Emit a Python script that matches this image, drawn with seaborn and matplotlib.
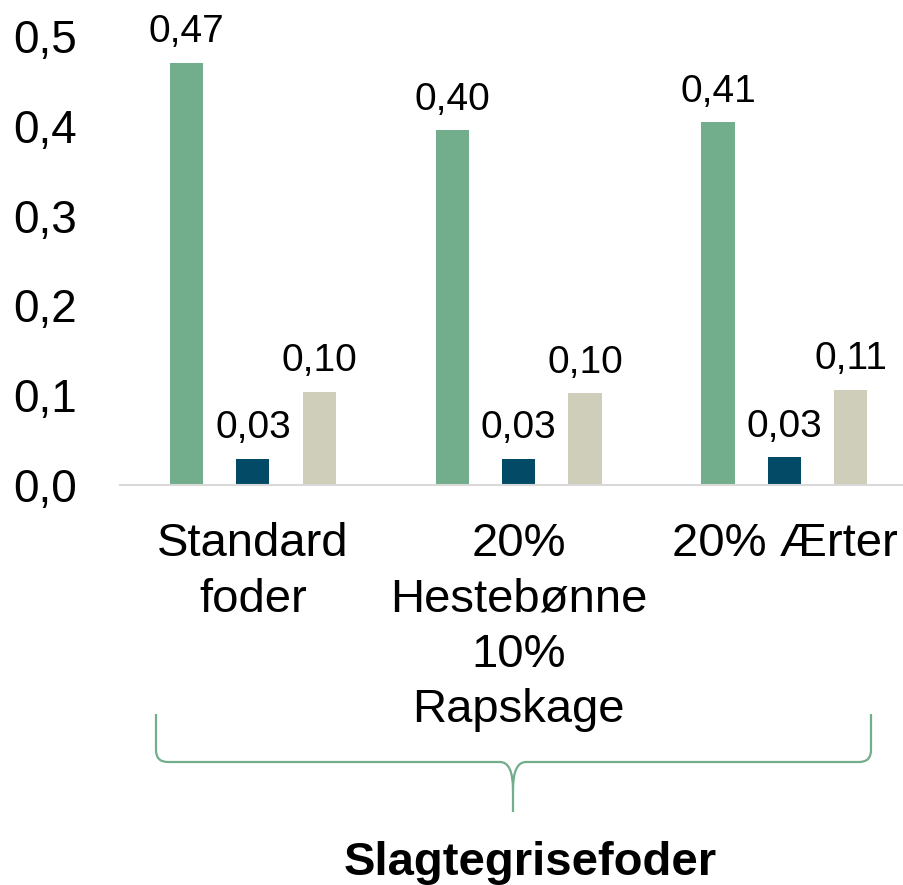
import numpy as np
import pandas as pd
import matplotlib.pyplot as plt
import seaborn as sns
from matplotlib.path import Path
from matplotlib.patches import PathPatch
from matplotlib.ticker import FuncFormatter

# data
foder = ["Standard\nfoder", "20%\nHestebønne\n10%\nRapskage", "20% Ærter"]
serier = ["Serie 1", "Serie 2", "Serie 3"]
serie1 = [0.470, 0.395, 0.404]
serie2 = [0.029, 0.029, 0.031]
serie3 = [0.104, 0.102, 0.106]
labels1 = ["0,47", "0,40", "0,41"]
labels2 = ["0,03", "0,03", "0,03"]
labels3 = ["0,10", "0,10", "0,11"]
y_ticks = [0.0, 0.1, 0.2, 0.3, 0.4, 0.5]
farver = ["#72AE8B", "#034A66", "#CFCEBB"]

df = pd.DataFrame({
    "foder": foder * 3,
    "serie": np.repeat(serier, 3),
    "vaerdi": serie1 + serie2 + serie3,
})

sns.set_theme(style="white")
plt.rcParams["font.family"] = ["Liberation Sans", "DejaVu Sans"]
plt.rcParams["text.color"] = "black"
plt.rcParams["xtick.color"] = "black"
plt.rcParams["ytick.color"] = "black"

W, H = 904, 885
fig = plt.figure(figsize=(W / 100, H / 100), dpi=100)
ax = fig.add_axes([120 / W, 400 / H, 784 / W, 449 / H])

sns.barplot(data=df, x="foder", y="vaerdi", hue="serie", palette=farver, saturation=1,
            width=0.75, gap=0.5, linewidth=0, errorbar=None, legend=False, ax=ax)

# value labels
for cont, labs in zip(ax.containers, [labels1, labels2, labels3]):
    ax.bar_label(cont, labels=labs, padding=9, fontsize=28)

ax.set_ylim(0, 0.5)
ax.set_xlim(-0.5, 2.45)
ax.set_yticks(y_ticks)
ax.yaxis.set_major_formatter(FuncFormatter(lambda v, p: f"{v:.1f}".replace(".", ",")))
ax.set_xlabel("")
ax.set_ylabel("")
ax.tick_params(axis="y", length=0, pad=31, labelsize=33)
ax.tick_params(axis="x", length=0, pad=27, labelsize=34)
for t in ax.get_xticklabels():
    t.set_linespacing(1.33)

for s in ["top", "left", "right"]:
    ax.spines[s].set_visible(False)
ax.spines["bottom"].set_color("#D9D9D9")
ax.spines["bottom"].set_linewidth(1.5)


# curly brace under the categories (pixel coords -> figure fraction)
def fp(x, y):
    return (x / W, 1 - y / H)


verts = [fp(156, 714), fp(156, 750), fp(156, 762), fp(168, 762),
         fp(500, 762), fp(513, 762), fp(513, 790), fp(513, 812),
         fp(513, 790), fp(513, 762), fp(526, 762),
         fp(859, 762), fp(871, 762), fp(871, 750), fp(871, 714)]
codes = [Path.MOVETO, Path.LINETO, Path.CURVE3, Path.CURVE3,
         Path.LINETO, Path.CURVE3, Path.CURVE3, Path.LINETO,
         Path.MOVETO, Path.CURVE3, Path.CURVE3,
         Path.LINETO, Path.CURVE3, Path.CURVE3, Path.LINETO]
brace = PathPatch(Path(verts, codes), transform=fig.transFigure,
                  facecolor="none", edgecolor="#72AE8B", linewidth=1.6)
fig.patches.append(brace)

fig.text(530 / W, 1 - 875 / H, "Slagtegrisefoder", ha="center", va="baseline",
         fontsize=34, fontweight="bold")

fig.savefig("out.png", dpi=100)
